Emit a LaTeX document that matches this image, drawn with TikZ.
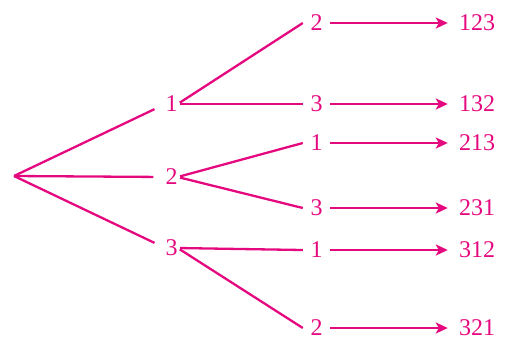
\documentclass[tikz,border=0pt]{standalone}
\usepackage{fontspec}
\setmainfont{Liberation Serif}
\usetikzlibrary{arrows.meta}
\definecolor{treepink}{HTML}{E5097F}
\begin{document}
\begin{tikzpicture}[x=1pt,y=-1pt,
  lab/.style={text=treepink, font=\fontsize{24}{28}\selectfont, inner sep=0pt},
  midlab/.style={lab, inner xsep=7.5pt},
  reslab/.style={lab, inner xsep=11pt},
  edge/.style={draw=treepink, line width=2.3pt},
  arr/.style={edge, -{Stealth[length=12pt,width=11pt,inset=3pt]}}]
\useasboundingbox (0,0) rectangle (505,341);
\coordinate (r) at (14,176);
\node[lab] (a1) at (171.5,104) {1};
\node[lab] (a2) at (171.5,177) {2};
\node[lab] (a3) at (171.5,248) {3};
\node[midlab] (b12) at (316.5,23) {2};
\node[midlab] (b13) at (316.5,104) {3};
\node[midlab] (b21) at (316.5,143) {1};
\node[midlab] (b23) at (316.5,208) {3};
\node[midlab] (b31) at (316.5,250) {1};
\node[midlab] (b32) at (316.5,328) {2};
\node[reslab] (c12) at (477,23) {123};
\node[reslab] (c13) at (477,104) {132};
\node[reslab] (c21) at (477,143) {213};
\node[reslab] (c23) at (477,208) {231};
\node[reslab] (c31) at (477,250) {312};
\node[reslab] (c32) at (477,328) {321};
\foreach \a in {a1,a2,a3} \draw[edge, shorten >=12pt] (r) -- (\a.west);
\foreach \a/\b in {a1/b12,a1/b13,a2/b21,a2/b23,a3/b31,a3/b32}
  \draw[edge, shorten <=2.5pt] (\a.east) -- (\b.west);
\foreach \b/\c in {b12/c12,b13/c13,b21/c21,b23/c23,b31/c31,b32/c32}
  \draw[arr] (\b.east) -- (\c.west);
\end{tikzpicture}
\end{document}
